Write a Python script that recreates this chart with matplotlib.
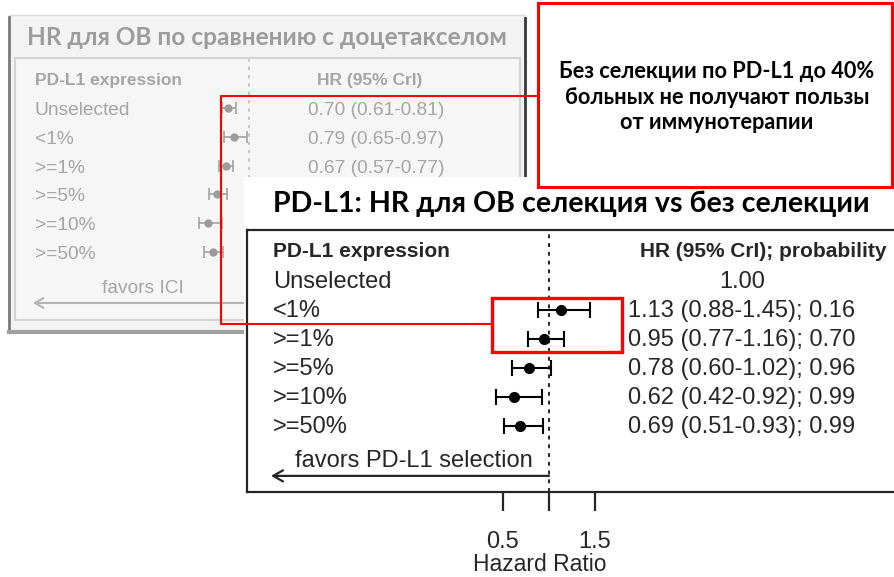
import numpy as np
import matplotlib
matplotlib.use('Agg')
import matplotlib.pyplot as plt
from matplotlib.patches import Rectangle

W, H = 895, 577

groups = ['Unselected', '<1%', '>=1%', '>=5%', '>=10%', '>=50%']

# back panel: HR vs docetaxel (rows >=5% and below are read off the points only,
# their text is hidden behind the front slide)
ici_hr = [0.70, 0.79, 0.67, 0.54, 0.41, 0.49]
ici_lo = [0.61, 0.65, 0.57, 0.43, 0.29, 0.36]
ici_hi = [0.81, 0.97, 0.77, 0.69, 0.61, 0.63]
ici_visible = 3

# front panel: PD-L1 selected vs unselected
sel_hr = [1.00, 1.13, 0.95, 0.78, 0.62, 0.69]
sel_lo = [np.nan, 0.88, 0.77, 0.60, 0.42, 0.51]
sel_hi = [np.nan, 1.45, 1.16, 1.02, 0.92, 0.93]
sel_prob = [np.nan, 0.16, 0.70, 0.96, 0.99, 0.99]

x_ticks = [0.5, 1.0, 1.5]
x_tick_labels = ['0.5', '', '1.5']

back_title = 'HR для ОВ по сравнению с доцетакселом'
front_title = 'PD-L1: HR для ОВ селекция vs без селекции'
callout = 'Без селекции по PD-L1 до 40%\nбольных не получают пользы\nот иммунотерапии'

TITLE_FONT = ['Lato', 'Open Sans', 'DejaVu Sans']
R_FONT = ['Liberation Sans', 'DejaVu Sans']
GREY = '#a5a5a5'
DARK = '#262626'

fig = plt.figure(figsize=(W / 100, H / 100), dpi=100)
fig.patch.set_facecolor('white')


def canvas(z):
    ax = fig.add_axes([0, 0, 1, 1], zorder=z)
    ax.set_xlim(0, W)
    ax.set_ylim(H, 0)
    ax.axis('off')
    return ax


def px_axes(x0, y0, x1, y1, z):
    return fig.add_axes([x0 / W, 1 - y1 / H, (x1 - x0) / W, (y1 - y0) / H], zorder=z)


rows = np.arange(len(groups))

# ---- back (faded) slide ----
bg = canvas(0)
bg.add_patch(Rectangle((9, 15), 516, 317, facecolor='#f3f3f3', edgecolor='#dcdcdc', lw=1))
bg.plot([9, 9], [17, 332], color='#7a7a7a', lw=2)
bg.plot([9, 244], [332, 332], color='#a0a0a0', lw=3)
bg.plot([525, 525], [18, 177], color='#3a3a3a', lw=2)
bg.text(27, 45, back_title, family=TITLE_FONT, weight='bold', fontsize=17.6,
        color='#9c9c9c', va='baseline')

ax_b = px_axes(15, 58, 520, 320, 1)
ax_b.set_facecolor('#f6f6f6')
ax_b.set_xlim(1 - 234 / 70, 1 + 271 / 70)
ax_b.set_ylim((320 - 108) / 28.8, (58 - 108) / 28.8)
ax_b.set_xticks([])
ax_b.set_yticks([])
for s in ax_b.spines.values():
    s.set_color('#d3d3d3')
    s.set_linewidth(1.5)

ax_b.axvline(1, color='#bdbdbd', lw=1.2, ls=(0, (2, 3)))
err_b = [np.subtract(ici_hr, ici_lo), np.subtract(ici_hi, ici_hr)]
ax_b.errorbar(ici_hr, rows, xerr=err_b, fmt='o', color='#9c9c9c', ms=5,
              elinewidth=1.1, capsize=4.5, capthick=1.1)

tb = ax_b.get_yaxis_transform()
ax_b.text(0.0396, -0.80, 'PD-L1 expression', transform=tb, family=R_FONT,
          weight='bold', fontsize=12.5, color=GREY, va='baseline')
ax_b.text(0.703, -0.80, 'HR (95% CrI)', transform=tb, family=R_FONT,
          weight='bold', fontsize=12.5, color=GREY, va='baseline', ha='center')
for i, g in enumerate(groups):
    ax_b.text(0.0396, i + 0.24, g, transform=tb, family=R_FONT, fontsize=13.8,
              color=GREY, va='baseline')
for i in range(ici_visible):
    ax_b.text(0.715, i + 0.24, f'{ici_hr[i]:.2f} ({ici_lo[i]:.2f}-{ici_hi[i]:.2f})',
              transform=tb, family=R_FONT, fontsize=13.8, color=GREY,
              va='baseline', ha='center')
ax_b.text(0.253, 6.42, 'favors ICI', transform=tb, family=R_FONT, fontsize=13.8,
          color=GREY, va='baseline', ha='center')
ax_b.annotate('', xy=(1 - 216 / 70, 6.77), xytext=(1, 6.77),
              arrowprops=dict(arrowstyle='->,head_length=0.6,head_width=0.35',
                              color='#b5b5b5', lw=1.5, shrinkA=0, shrinkB=0))

# ---- front slide ----
fg = canvas(2)
fg.add_patch(Rectangle((244, 177), W - 244, H - 177, facecolor='white', edgecolor='none'))
fg.text(273, 212, front_title, family=TITLE_FONT, weight='bold', fontsize=20.6,
        color='black', va='baseline')

ax_f = px_axes(247, 230, 900, 492, 3)
ax_f.set_facecolor('white')
ax_f.set_xlim(1 - 302 / 92, 1 + 351 / 92)
ax_f.set_ylim((492 - 281) / 29, (230 - 281) / 29)
for s in ax_f.spines.values():
    s.set_color(DARK)
    s.set_linewidth(1.6)
ax_f.set_yticks([])
ax_f.set_xticks(x_ticks)
ax_f.set_xticklabels(x_tick_labels, family=R_FONT)
ax_f.tick_params(axis='x', direction='out', length=14, width=1.6, color=DARK,
                 labelsize=17, pad=14, labelcolor=DARK)
ax_f.set_xlabel('Hazard Ratio', family=R_FONT, fontsize=16.5, color=DARK,
                x=(540 - 247) / 653, labelpad=0)

ax_f.axvline(1, color=DARK, lw=1.4, ls=(0, (2, 2.5)))
sel = rows[1:]
err_f = [np.subtract(sel_hr, sel_lo)[1:], np.subtract(sel_hi, sel_hr)[1:]]
ax_f.errorbar(np.array(sel_hr)[1:], sel, xerr=err_f, fmt='o', color='black', ms=7,
              elinewidth=1.5, capsize=6, capthick=1.5)

tf = ax_f.get_yaxis_transform()
ax_f.text(0.0398, -0.83, 'PD-L1 expression', transform=tf, family=R_FONT,
          weight='bold', fontsize=15, color=DARK, va='baseline')
ax_f.text(0.980, -0.83, 'HR (95% CrI); probability', transform=tf, family=R_FONT,
          weight='bold', fontsize=15, color=DARK, va='baseline', ha='right')
for i, g in enumerate(groups):
    ax_f.text(0.0398, i + 0.24, g, transform=tf, family=R_FONT, fontsize=17,
              color=DARK, va='baseline')
    if np.isnan(sel_lo[i]):
        label = f'{sel_hr[i]:.2f}'
    else:
        label = f'{sel_hr[i]:.2f} ({sel_lo[i]:.2f}-{sel_hi[i]:.2f}); {sel_prob[i]:.2f}'
    ax_f.text(0.758, i + 0.24, label, transform=tf, family=R_FONT, fontsize=17,
              color=DARK, va='baseline', ha='center')
ax_f.text(0.256, 6.41, 'favors PD-L1 selection', transform=tf, family=R_FONT,
          fontsize=17, color=DARK, va='baseline', ha='center')
ax_f.annotate('', xy=(1 - 278 / 92, 6.72), xytext=(1, 6.72),
              arrowprops=dict(arrowstyle='->,head_length=0.7,head_width=0.4',
                              color=DARK, lw=1.6, shrinkA=0, shrinkB=0))

# ---- red annotations on top ----
top = canvas(4)
top.add_patch(Rectangle((538, 3), 354, 184, facecolor='white', edgecolor='red', lw=2.2))
top.plot([538, 221, 221, 492], [96, 96, 324, 324], color='red', lw=1.5)
top.add_patch(Rectangle((492, 298), 130, 54, facecolor='none', edgecolor='red', lw=2.4))
top.text(717, 97, callout, family=TITLE_FONT, weight='bold', fontsize=15.7,
         color='black', ha='center', va='center', linespacing=1.25)

fig.savefig('out.png', dpi=100, facecolor='white')
